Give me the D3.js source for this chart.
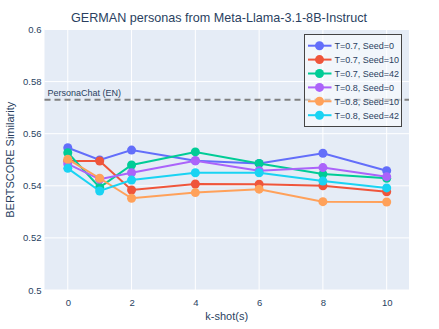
<!DOCTYPE html>
<html><head><meta charset="utf-8">
<script src="https://cdn.jsdelivr.net/npm/d3@7"></script>
<style>body{margin:0;background:#fff}svg{display:block;font-family:"Liberation Sans",Arial,sans-serif}</style>
</head><body><svg id="c" width="439" height="329"></svg>
<script>
const kshots = [0, 1, 2, 4, 6, 8, 10];
const seriesNames = ["T=0.7, Seed=0","T=0.7, Seed=10","T=0.7, Seed=42","T=0.8, Seed=0","T=0.8, Seed=10","T=0.8, Seed=42"];
const s07_0  = [0.5546, 0.5499, 0.5537, 0.5496, 0.5486, 0.5525, 0.5458];
const s07_10 = [0.5495, 0.5495, 0.5384, 0.5407, 0.5406, 0.5400, 0.5377];
const s07_42 = [0.5527, 0.5394, 0.5480, 0.5530, 0.5486, 0.5445, 0.5429];
const s08_0  = [0.5484, 0.5425, 0.5450, 0.5496, 0.5458, 0.5470, 0.5435];
const s08_10 = [0.5502, 0.5429, 0.5352, 0.5374, 0.5387, 0.5339, 0.5338];
const s08_42 = [0.5467, 0.5380, 0.5422, 0.5450, 0.5450, 0.5418, 0.5392];
const seriesValues = [s07_0, s07_10, s07_42, s08_0, s08_10, s08_42];
const colors = ["#636efa","#EF553B","#00cc96","#ab63fa","#FFA15A","#19d3f3"];
const xTicks = [0, 2, 4, 6, 8, 10];
const yTicks = [0.5, 0.52, 0.54, 0.56, 0.58, 0.6];
const refValue = 0.573;
const refLabel = "PersonaChat (EN)";
const title = "GERMAN personas from Meta-Llama-3.1-8B-Instruct";

const svg = d3.select("#c");
const L = 44.5, R = 409, T = 29.5, B = 290;
const x = d3.scaleLinear().domain([-0.73, 10.7]).range([L, R]);
const y = d3.scaleLinear().domain([0.5, 0.6]).range([B, T]);
const txt = "#2a3f5f";

svg.append("rect").attr("x", L).attr("y", T).attr("width", R - L).attr("height", B - T).attr("fill", "#E5ECF6");
svg.append("g").selectAll("line").data(xTicks).join("line")
  .attr("x1", d => x(d)).attr("x2", d => x(d)).attr("y1", T).attr("y2", B)
  .attr("stroke", "#fff").attr("stroke-width", 1);
svg.append("g").selectAll("line").data(yTicks).join("line")
  .attr("x1", L).attr("x2", R).attr("y1", d => y(d)).attr("y2", d => y(d))
  .attr("stroke", "#fff").attr("stroke-width", 1);

// axes via d3
const xa = svg.append("g").attr("transform", `translate(0,${B})`)
  .call(d3.axisBottom(x).tickValues(xTicks).tickSize(0).tickPadding(9).tickFormat(d3.format("d")));
const ya = svg.append("g").attr("transform", `translate(${L},0)`)
  .call(d3.axisLeft(y).tickValues(yTicks).tickSize(0).tickPadding(3).tickFormat(d => d3.format("")(+d.toFixed(2))));
[xa, ya].forEach(a => {
  a.select(".domain").remove();
  a.selectAll("text").attr("fill", txt).attr("font-size", 9.5).attr("font-family", "Liberation Sans, Arial, sans-serif");
});

// reference line
svg.append("line").attr("x1", L).attr("x2", R).attr("y1", y(refValue)).attr("y2", y(refValue))
  .attr("stroke", "#808080").attr("stroke-width", 2).attr("stroke-dasharray", "6,4");
svg.append("text").attr("x", L + 3).attr("y", y(refValue) - 4).attr("fill", txt)
  .attr("font-size", 9).text(refLabel);

// series
const line = d3.line().x((d, i) => x(kshots[i])).y(d => y(d));
seriesValues.forEach((vals, si) => {
  const g = svg.append("g");
  g.append("path").attr("d", line(vals)).attr("fill", "none").attr("stroke", colors[si]).attr("stroke-width", 2);
  g.selectAll("circle").data(vals).join("circle")
    .attr("cx", (d, i) => x(kshots[i])).attr("cy", d => y(d)).attr("r", 4.5).attr("fill", colors[si]);
});

// legend
const lx = 304.5, ly = 34.5, lw = 97, lh = 92;
svg.append("rect").attr("x", lx).attr("y", ly).attr("width", lw).attr("height", lh)
  .attr("fill", "rgba(255,255,255,0.5)").attr("stroke", "#444").attr("stroke-width", 1);
seriesNames.forEach((n, i) => {
  const cy = 45.7 + i * 13.9;
  const g = svg.append("g");
  g.append("line").attr("x1", lx + 3.5).attr("x2", lx + 27).attr("y1", cy).attr("y2", cy).attr("stroke", colors[i]).attr("stroke-width", 2);
  g.append("circle").attr("cx", lx + 15).attr("cy", cy).attr("r", 4.5).attr("fill", colors[i]);
  g.append("text").attr("x", lx + 30).attr("y", cy + 3.3).attr("fill", txt).attr("font-size", 9).text(n);
});

// titles
svg.append("text").attr("x", 219).attr("y", 22).attr("text-anchor", "middle").attr("fill", txt)
  .attr("font-size", 12.6).text(title);
svg.append("text").attr("x", 226.7).attr("y", 320).attr("text-anchor", "middle").attr("fill", txt)
  .attr("font-size", 11).text("k-shot(s)");
svg.append("text").attr("transform", `translate(14,${(T + B) / 2}) rotate(-90)`).attr("text-anchor", "middle")
  .attr("fill", txt).attr("font-size", 11).text("BERTSCORE Similarity");
</script></body></html>
